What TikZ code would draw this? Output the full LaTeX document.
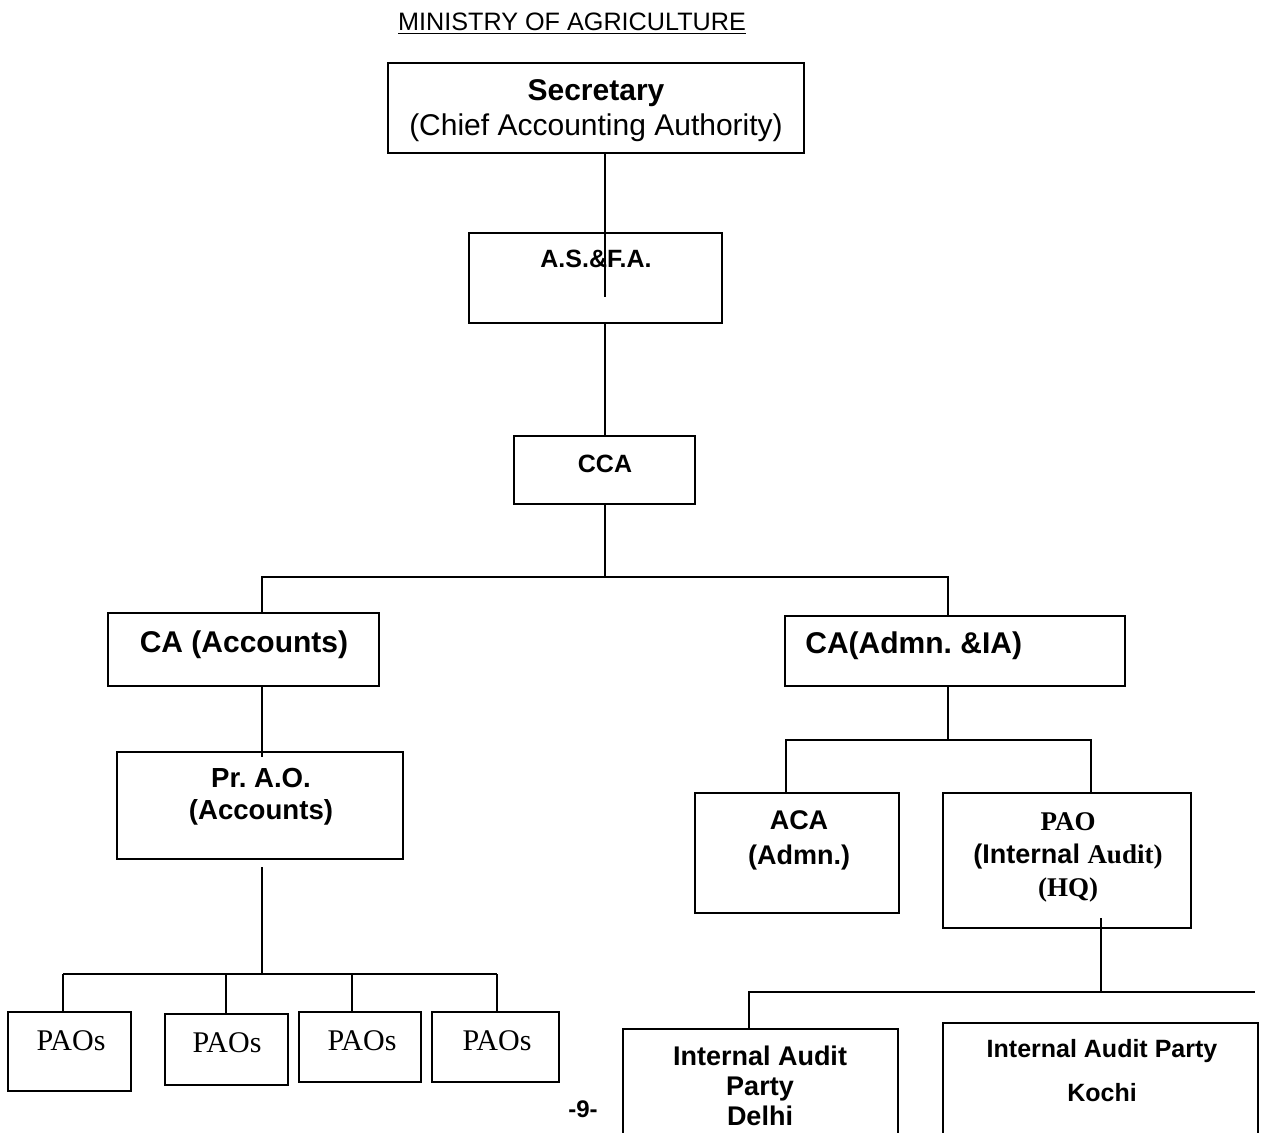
\documentclass[tikz,border=0pt]{standalone}
\usepackage{fontspec}
\setmainfont{Liberation Sans}
\newfontfamily\timesfont{Liberation Serif}
\usepackage{tikz}
\usetikzlibrary{positioning,fit,calc}
\frenchspacing
\tikzset{box/.style={rectangle, draw=black, line width=1pt, inner sep=0pt}, link/.style={draw=black, line width=0.8pt}, lbl/.style={align=center, inner sep=0pt}, bigtxt/.style={font=\fontsize{15}{17.5}\selectfont\bfseries}, midtxt/.style={font=\fontsize{13.8}{16}\selectfont\bfseries}, paotxt/.style={font=\fontsize{15}{18}\selectfont\timesfont}}

\begin{document}
\begin{tikzpicture}[x=0.5pt, y=-0.5pt]
\useasboundingbox (0,0) rectangle (1265,1132);
\clip (0,0) rectangle (1265,1132);
% title
\node[lbl, font=\fontsize{12.6}{14}\selectfont, anchor=base] (title) at (572,30) {\underline{MINISTRY OF AGRICULTURE}};
% boxes
\node[box, fit={(388,63) (804,153)}] (secretary) {};
\node[box, fit={(469,233) (722,323)}] (asfa) {};
\node[box, fit={(514,436) (695,504)}] (cca) {};
\node[box, fit={(108,613) (379,686)}] (caacc) {};
\node[box, fit={(785,616) (1125,686)}] (caadm) {};
\node[box, fit={(117,752) (403,859)}] (prao) {};
\node[box, fit={(695,793) (899,913)}] (aca) {};
\node[box, fit={(943,793) (1191,928)}] (pao) {};
\node[box, fit={(623,1029) (898,1150)}] (delhi) {};
\node[box, fit={(943,1023) (1258,1150)}] (kochi) {};
\node[box, fit={(8,1012) (131,1091)}] (paos1) {};
\node[box, fit={(165,1014) (288,1085)}] (paos2) {};
\node[box, fit={(299,1012) (421,1082)}] (paos3) {};
\node[box, fit={(432,1012) (559,1082)}] (paos4) {};
% labels
\node[lbl, font=\fontsize{15}{17.5}\selectfont] (secretary-t) at (596,111) {\textbf{Secretary}\\(Chief Accounting Authority)};
\node[lbl, font=\fontsize{12.5}{14}\selectfont\bfseries] (asfa-t) at (596,259) {A.S.\&F.A.};
\node[lbl, font=\fontsize{12.5}{14}\selectfont\bfseries] (cca-t) at (605,464) {CCA};
\node[lbl, bigtxt] (caacc-t) at (244,645) {CA (Accounts)};
\node[lbl, bigtxt, anchor=west] (caadm-t) at (805,646) {CA(Admn. \&IA)};
\node[lbl, midtxt] (prao-t) at (261,797) {Pr. A.O.\\(Accounts)};
\node[lbl, font=\fontsize{13.5}{17.5}\selectfont\bfseries] (aca-t) at (799,840) {ACA\\(Admn.)};
\node[lbl, font=\fontsize{13.5}{16.5}\selectfont\bfseries] (pao-t) at (1068,857) {{\timesfont PAO}\\(Internal {\timesfont Audit)}\\{\timesfont (HQ)}};
\node[lbl, font=\fontsize{13.5}{15}\selectfont\bfseries] (delhi-t) at (760,1086) {Internal Audit\\Party\\Delhi};
\node[lbl, font=\fontsize{12.5}{22}\selectfont\bfseries] (kochi-t) at (1102,1071) {Internal Audit Party\\Kochi};
\foreach \i/\x/\y in {1/71/1041,2/227/1043,3/362/1041,4/497/1041}
  \node[lbl, paotxt] (paos\i-t) at (\x,\y) {PAOs};
\node[lbl, font=\fontsize{12}{14}\selectfont\bfseries] (page) at (583,1109) {-9-};
% junctions
\coordinate (hubA) at (605,577);
\coordinate (legL) at (262,577);
\coordinate (legR) at (948,577);
\coordinate (hubB) at (948,740);
\coordinate (subL) at (786,740);
\coordinate (subR) at (1091,740);
\coordinate (hubC) at (1101,992);
\coordinate (iapL) at (749,992);
\coordinate (iapR) at (1255,992);
\coordinate (hubD) at (262,974);
\coordinate (rowL) at (63,974);
\coordinate (rowR) at (497,974);
% connectors
\draw[link] (secretary.south -| hubA) -- ($(asfa.north -| hubA)+(0,65)$);
\draw[link] (asfa.south -| hubA) -- (cca.north -| hubA);
\draw[link] (cca.south -| hubA) -- (hubA);
\draw[link] (legL |- caacc.north) -- (legL) -- (legR) -- (legR |- caadm.north);
\draw[link] (legL |- caacc.south) -- ($(legL |- prao.north)+(0,6)$);
\draw[link] (hubB |- caadm.south) -- (hubB);
\draw[link] (subL |- aca.north) -- (subL) -- (subR) -- (subR |- pao.north);
\draw[link] ($(hubC |- pao.south)+(0,-11)$) -- (hubC);
\draw[link] (iapL |- delhi.north) -- (iapL) -- (iapR);
\draw[link] ($(hubD |- prao.south)+(0,7)$) -- (hubD);
\draw[link] (rowL) -- (rowR);
\foreach \i/\x in {1/63,2/226,3/352,4/497}
  \draw[link] (\x,974) -- (\x,974 |- paos\i.north);
\end{tikzpicture}
\end{document}
